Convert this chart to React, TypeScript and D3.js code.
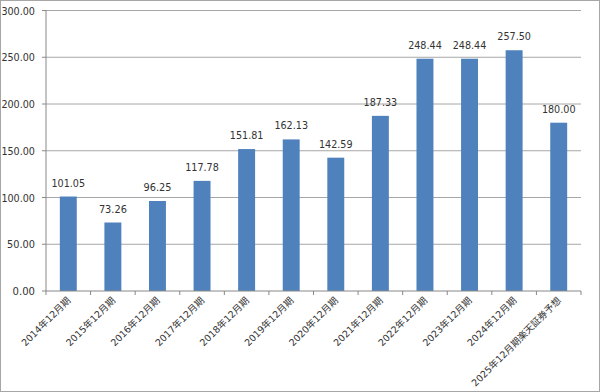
import React, { useEffect } from "react";
import * as d3 from "d3";

const categories = [
  "2014年12月期", "2015年12月期", "2016年12月期", "2017年12月期",
  "2018年12月期", "2019年12月期", "2020年12月期", "2021年12月期",
  "2022年12月期", "2023年12月期", "2024年12月期", "2025年12月期楽天証券予想",
];
const values = [101.05, 73.26, 96.25, 117.78, 151.81, 162.13, 142.59, 187.33, 248.44, 248.44, 257.5, 180.0];
const yTicks = [0, 50, 100, 150, 200, 250, 300];

const W = 600, H = 392;
const left = 46, right = 581, top = 10.5, bottom = 291;

const numLen = (s: string) => s.length * 5.6;

export default function App() {
  useEffect(() => {
    document.body.style.margin = "0";
  }, []);
  const x = d3.scaleBand<string>().domain(categories).range([left, right]).paddingInner(0.62).paddingOuter(0.31);
  const y = d3.scaleLinear().domain([0, 300]).range([bottom, top]);
  const step = x.step();
  const font = "'DejaVu Sans', Verdana, sans-serif";
  const cjk = "'DejaVu Sans', 'Noto Sans CJK JP', sans-serif";
  return (
    <svg width={W} height={H} style={{ display: "block" }}>
      <rect x={0.5} y={0.5} width={W - 1} height={H - 1} fill="#fff" stroke="#a6a6a6" />
      {yTicks.map((t) => {
        const s = t.toFixed(2);
        const len = numLen(s);
        return (
          <g key={t}>
            {t > 0 && <line x1={left} x2={right} y1={y(t)} y2={y(t)} stroke="#a6a6a6" strokeWidth={1} />}
            <line x1={left - 4} x2={left} y1={y(t)} y2={y(t)} stroke="#888" />
            <text x={35 - len} y={y(t) + 4} fontFamily={font} fontSize={11} fill="#333" textLength={len} lengthAdjust="spacingAndGlyphs">
              {s}
            </text>
          </g>
        );
      })}
      <line x1={left} x2={left} y1={top} y2={bottom} stroke="#888" />
      {values.map((v, i) => {
        const cx = (x(categories[i]) as number) + x.bandwidth() / 2;
        const s = v.toFixed(2);
        const len = numLen(s);
        return (
          <g key={i}>
            <rect x={x(categories[i])} y={y(v)} width={x.bandwidth()} height={bottom - y(v)} fill="#4f81bd" />
            <text x={cx - len / 2} y={y(v) - 10} fontFamily={font} fontSize={11} fill="#333" textLength={len} lengthAdjust="spacingAndGlyphs">
              {s}
            </text>
          </g>
        );
      })}
      <line x1={left} x2={right} y1={bottom} y2={bottom} stroke="#888" />
      {d3.range(categories.length + 1).map((i) => (
        <line key={i} x1={left + i * step} x2={left + i * step} y1={bottom} y2={bottom + 4} stroke="#888" />
      ))}
      {categories.map((c, i) => {
        const cx = (x(c) as number) + x.bandwidth() / 2 + 3;
        const cy = bottom + 10;
        return (
          <text key={c} x={cx} y={cy} textAnchor="end" fontFamily={cjk} fontSize={9.5} fill="#333" transform={`rotate(-45 ${cx} ${cy})`}>
            {c}
          </text>
        );
      })}
    </svg>
  );
}
